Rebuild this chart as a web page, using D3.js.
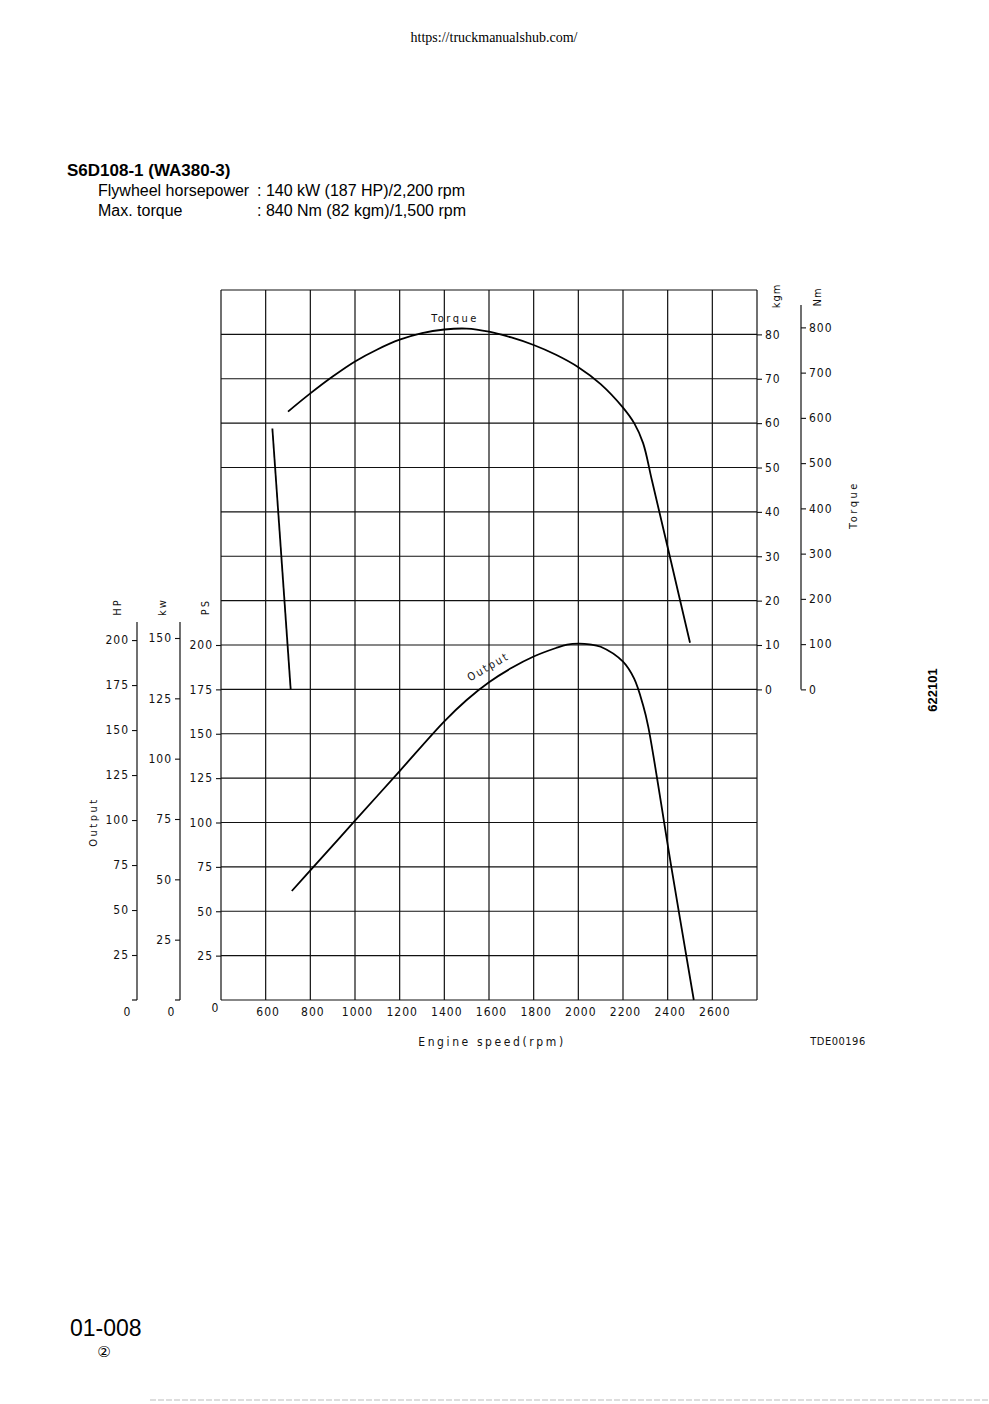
<!DOCTYPE html>
<html><head><meta charset="utf-8">
<script src="https://cdn.jsdelivr.net/npm/d3@7"></script>
<style>
html,body{margin:0;padding:0;background:#fff;}
svg{display:block;}
.tk text{font-family:"Liberation Sans Narrow","DejaVu Sans Condensed","Liberation Sans",sans-serif;font-size:12px;letter-spacing:1px;fill:#111;}
.tk line{stroke:#111;stroke-width:1.1;}
.tk path{stroke:#111;stroke-width:1.1;}
.lbl{font-family:"Liberation Sans Narrow","DejaVu Sans Condensed","Liberation Sans",sans-serif;font-size:11px;letter-spacing:2px;fill:#111;}
</style></head>
<body>
<script>
// ---- data ----
const rpmTicks = [600, 800, 1000, 1200, 1400, 1600, 1800, 2000, 2200, 2400, 2600];
const psTicks = [25, 50, 75, 100, 125, 150, 175, 200];
const hpTicks = [25, 50, 75, 100, 125, 150, 175, 200];
const kwTicks = [25, 50, 75, 100, 125, 150];
const kgmTicks = [0, 10, 20, 30, 40, 50, 60, 70, 80];
const nmTicks = [0, 100, 200, 300, 400, 500, 600, 700, 800];
// torque curve: rpm, kgm
const torqueRpm = [700, 800, 900, 1000, 1100, 1200, 1300, 1400, 1500, 1600, 1700, 1800, 1900, 2000, 2100, 2200, 2250, 2290, 2330, 2415, 2500];
const torqueKgm = [62.6, 66.7, 70.5, 73.9, 76.6, 78.8, 80.3, 81.1, 81.3, 80.6, 79.3, 77.6, 75.4, 72.6, 68.8, 63.5, 60.0, 55.5, 47.0, 28.8, 10.5];
// short straight line at low speed (kgm scale)
const lowRpm = [630, 712];
const lowKgm = [58.8, 0];
// output curve: rpm, PS
const outputRpm = [717, 800, 1000, 1200, 1400, 1500, 1600, 1700, 1800, 1900, 1950, 2000, 2050, 2100, 2200, 2250, 2290, 2313, 2415, 2517];
const outputPs = [61.4, 73.0, 101.0, 129.0, 157.0, 169.0, 179.0, 187.0, 193.5, 198.3, 200.2, 200.8, 200.4, 199.0, 190.6, 181.0, 166.0, 154.0, 76.0, 0];

const W = 989, H = 1404;
const svg = d3.select("body").append("svg").attr("width", W).attr("height", H);

const x = d3.scaleLinear([400, 2800], [221, 757]);
const yPS = d3.scaleLinear([0, 400], [1000, 290]);
const KG = 9.80665;
const yKgm = d3.scaleLinear([-70, 90], [1000, 290]);
const yNm = d3.scaleLinear([-70 * KG, 90 * KG], [1000, 290]);
const yHP = d3.scaleLinear([0, 400 / 1.01387], [1000, 290]);
const yKW = d3.scaleLinear([0, 400 / 1.35962], [1000, 290]);

// ---- header texts ----
svg.append("text").attr("x", 494).attr("y", 42).attr("text-anchor", "middle")
  .style("font-family", "'Liberation Serif','DejaVu Serif',serif").style("font-size", "14px").text("https://truckmanualshub.com/");
const tf = "'Liberation Sans',Arial,sans-serif";
svg.append("text").attr("x", 67).attr("y", 176).style("font-family", tf).style("font-weight", "bold").style("font-size", "17px").text("S6D108-1 (WA380-3)");
svg.append("text").attr("x", 98).attr("y", 196).style("font-family", tf).style("font-size", "16px").text("Flywheel horsepower");
svg.append("text").attr("x", 257).attr("y", 196).style("font-family", tf).style("font-size", "16px").text(": 140 kW (187 HP)/2,200 rpm");
svg.append("text").attr("x", 98).attr("y", 216).style("font-family", tf).style("font-size", "16px").text("Max. torque");
svg.append("text").attr("x", 257).attr("y", 216).style("font-family", tf).style("font-size", "16px").text(": 840 Nm (82 kgm)/1,500 rpm");

// ---- grid ----
const g = svg.append("g");
const vLines = d3.range(400, 2801, 200);
g.selectAll(".vl").data(vLines).join("line")
  .attr("x1", d => x(d)).attr("x2", d => x(d)).attr("y1", yPS(400)).attr("y2", yPS(0))
  .attr("stroke", "#111").attr("stroke-width", 1.2);
const hLines = d3.range(0, 401, 25);
g.selectAll(".hl").data(hLines).join("line")
  .attr("x1", x(400)).attr("x2", x(2800)).attr("y1", d => yPS(d)).attr("y2", d => yPS(d))
  .attr("stroke", "#111").attr("stroke-width", 1.2);

// ---- axes ----
const ax = svg.append("g").attr("class", "tk").attr("transform", `translate(2,${yPS(0)})`)
  .call(d3.axisBottom(x).tickValues(rpmTicks).tickFormat(d3.format("d")).tickSize(0).tickPadding(7));
ax.select(".domain").remove();

const aps = svg.append("g").attr("class", "tk").attr("transform", `translate(${x(400)},0)`)
  .call(d3.axisLeft(yPS).tickValues(psTicks).tickSize(5).tickPadding(3));
aps.select(".domain").remove();
const zf = "'Liberation Sans Narrow','DejaVu Sans Condensed',sans-serif";
svg.append("text").attr("x", 215).attr("y", 1012).attr("text-anchor", "middle")
  .style("font-family", zf).style("font-size", "12px").style("fill", "#111").text("0");

const ahp = svg.append("g").attr("class", "tk").attr("transform", `translate(137,0)`)
  .call(d3.axisLeft(yHP).tickValues(hpTicks).tickSize(5).tickPadding(3));
ahp.select(".domain").remove();
svg.append("line").attr("x1", 137).attr("x2", 137).attr("y1", 622).attr("y2", yHP(0)).attr("stroke", "#111").attr("stroke-width", 1.2);
svg.append("line").attr("x1", 132).attr("x2", 137).attr("y1", yHP(0)).attr("y2", yHP(0)).attr("stroke", "#111").attr("stroke-width", 1.2);
const akw = svg.append("g").attr("class", "tk").attr("transform", `translate(180,0)`)
  .call(d3.axisLeft(yKW).tickValues(kwTicks).tickSize(5).tickPadding(3));
akw.select(".domain").remove();
svg.append("line").attr("x1", 180).attr("x2", 180).attr("y1", 622).attr("y2", yKW(0)).attr("stroke", "#111").attr("stroke-width", 1.2);
svg.append("line").attr("x1", 175).attr("x2", 180).attr("y1", yKW(0)).attr("y2", yKW(0)).attr("stroke", "#111").attr("stroke-width", 1.2);
[[127, "0"], [171, "0"]].forEach(([px, t]) => svg.append("text").attr("x", px).attr("y", 1016).attr("text-anchor", "middle")
  .style("font-family", zf).style("font-size", "12px").style("fill", "#111").text(t));

const akg = svg.append("g").attr("class", "tk").attr("transform", `translate(${x(2800)},0)`)
  .call(d3.axisRight(yKgm).tickValues(kgmTicks).tickSize(5).tickPadding(3));
akg.select(".domain").remove();

const anm = svg.append("g").attr("class", "tk").attr("transform", `translate(801,0)`)
  .call(d3.axisRight(yNm).tickValues(nmTicks).tickSize(5).tickPadding(3));
anm.select(".domain").remove();
svg.append("line").attr("x1", 801).attr("x2", 801).attr("y1", 305).attr("y2", yNm(0)).attr("stroke", "#111").attr("stroke-width", 1.2);

// ---- axis titles ----
function rot(px, py, t, ls) {
  const e = svg.append("text").attr("class", "lbl").attr("transform", `translate(${px},${py}) rotate(-90)`)
    .attr("text-anchor", "middle").attr("dy", "0.35em").text(t);
  if (ls) e.style("letter-spacing", ls);
  return e;
}
rot(117, 607, "HP");
rot(162, 607, "kw");
rot(205, 607, "PS");
rot(93, 822, "Output", "2.5px");
rot(776, 296, "kgm", "1px");
rot(817, 297, "Nm", "1px");
rot(853, 505, "Torque", "2.5px");

svg.append("text").attr("class", "lbl").attr("x", 492).attr("y", 1046).attr("text-anchor", "middle")
  .style("font-size", "12px").style("letter-spacing", "2.6px").text("Engine speed(rpm)");
svg.append("text").attr("class", "lbl").attr("x", 838).attr("y", 1045).attr("text-anchor", "middle").style("letter-spacing", "0.5px").text("TDE00196");
svg.append("text").attr("class", "lbl").attr("x", 455).attr("y", 322).attr("text-anchor", "middle").style("letter-spacing", "2.5px").text("Torque");
svg.append("text").attr("class", "lbl").attr("transform", "translate(490,670) rotate(-30)").attr("text-anchor", "middle").text("Output");

svg.append("text").attr("transform", "translate(937,690) rotate(-90)").attr("text-anchor", "middle")
  .style("font-family", tf).style("font-weight", "bold").style("font-size", "13px").text("622101");
svg.append("text").attr("x", 70).attr("y", 1336).style("font-family", tf).style("font-size", "23px").text("01-008");
svg.append("text").attr("x", 104).attr("y", 1357).attr("text-anchor", "middle").style("font-family", "'DejaVu Sans',sans-serif").style("font-size", "15px").text("②");
svg.append("line").attr("x1", 150).attr("x2", 989).attr("y1", 1400).attr("y2", 1400).attr("stroke", "#bbb").attr("stroke-width", 1).attr("stroke-dasharray", "6,2");

// ---- curves ----
const torque = torqueRpm.map((r, i) => [r, torqueKgm[i]]);
const low = lowRpm.map((r, i) => [r, lowKgm[i]]);
const out = outputRpm.map((r, i) => [r, outputPs[i]]);
const lineK = d3.line().x(d => x(d[0])).y(d => yKgm(d[1])).curve(d3.curveCatmullRom.alpha(0.5));
const lineP = d3.line().x(d => x(d[0])).y(d => yPS(d[1])).curve(d3.curveCatmullRom.alpha(0.5));
svg.append("path").attr("d", lineK(torque)).attr("fill", "none").attr("stroke", "#000").attr("stroke-width", 1.8);
svg.append("path").attr("d", d3.line().x(d => x(d[0])).y(d => yKgm(d[1]))(low)).attr("fill", "none").attr("stroke", "#000").attr("stroke-width", 1.8);
svg.append("path").attr("d", lineP(out)).attr("fill", "none").attr("stroke", "#000").attr("stroke-width", 1.8);
</script>
</body></html>
